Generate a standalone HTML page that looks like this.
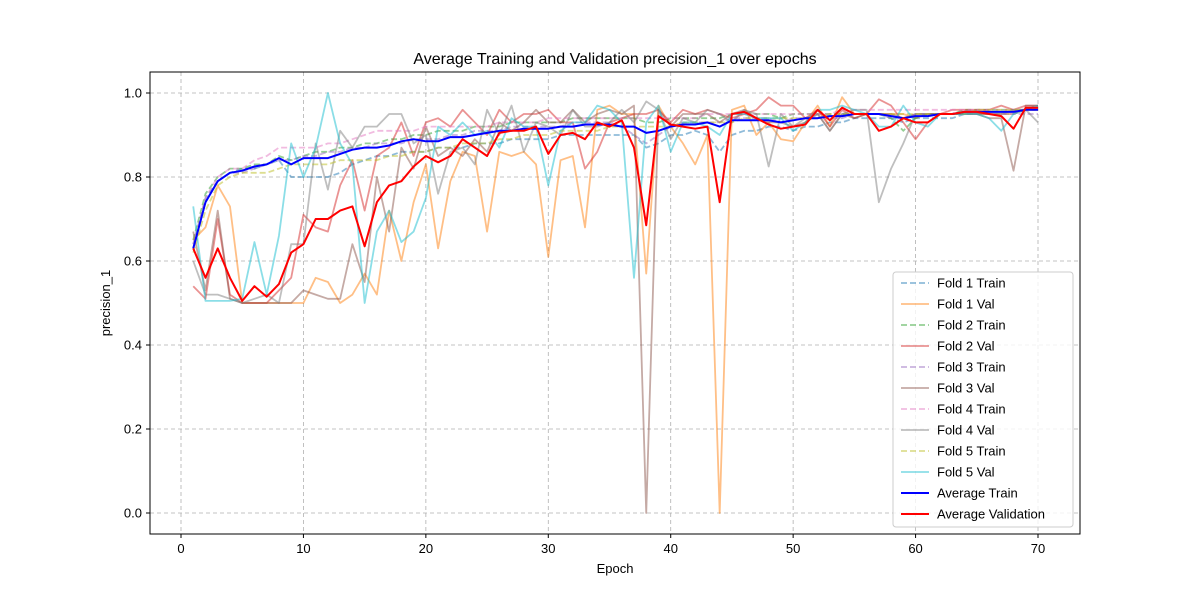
<!DOCTYPE html>
<html><head><meta charset="utf-8"><style>
body{margin:0;background:#fff;font-family:"Liberation Sans",sans-serif}
</style></head><body>
<svg id="chart" width="1200" height="600" xmlns="http://www.w3.org/2000/svg">
<rect width="1200" height="600" fill="#fff"/>
<text x="615" y="64" font-size="16" text-anchor="middle">Average Training and Validation precision_1 over epochs</text>
<g id="grid"></g><g id="series"></g><g id="axes"></g><g id="legend"></g>
<text x="615" y="573" font-size="13" text-anchor="middle">Epoch</text>
<text x="110" y="303" font-size="13" text-anchor="middle" transform="rotate(-90 110 303)">precision_1</text>
</svg>
<script>
const xTicks=[0,10,20,30,40,50,60,70];
const yTicks=[0.0,0.2,0.4,0.6,0.8,1.0];
const avgTrain=[0.63,0.74,0.79,0.81,0.815,0.825,0.83,0.845,0.83,0.845,0.845,0.845,0.855,0.865,0.87,0.87,0.875,0.885,0.89,0.885,0.885,0.895,0.895,0.9,0.905,0.91,0.91,0.915,0.915,0.915,0.92,0.92,0.925,0.925,0.925,0.92,0.92,0.905,0.91,0.92,0.925,0.925,0.93,0.92,0.935,0.935,0.935,0.935,0.93,0.935,0.94,0.94,0.945,0.945,0.95,0.95,0.95,0.945,0.94,0.945,0.945,0.95,0.95,0.955,0.955,0.955,0.955,0.955,0.96,0.96];
const avgVal=[0.63,0.56,0.63,0.56,0.505,0.54,0.515,0.545,0.62,0.64,0.70,0.70,0.72,0.73,0.635,0.74,0.78,0.79,0.825,0.85,0.835,0.85,0.89,0.87,0.85,0.905,0.91,0.91,0.92,0.855,0.90,0.905,0.89,0.93,0.92,0.935,0.87,0.685,0.945,0.925,0.92,0.915,0.92,0.74,0.95,0.955,0.94,0.925,0.915,0.92,0.925,0.96,0.935,0.965,0.95,0.95,0.91,0.92,0.94,0.93,0.93,0.95,0.95,0.955,0.955,0.95,0.945,0.915,0.965,0.965];
const f1Train=[0.64,0.75,0.79,0.81,0.82,0.82,0.83,0.84,0.80,0.80,0.80,0.80,0.81,0.83,0.84,0.85,0.85,0.86,0.86,0.86,0.87,0.87,0.87,0.88,0.88,0.88,0.89,0.89,0.89,0.89,0.90,0.90,0.90,0.90,0.90,0.90,0.90,0.87,0.88,0.90,0.90,0.91,0.90,0.86,0.90,0.91,0.91,0.92,0.92,0.91,0.92,0.92,0.93,0.93,0.94,0.94,0.94,0.94,0.93,0.94,0.94,0.94,0.94,0.95,0.95,0.95,0.95,0.95,0.96,0.96];
const f2Train=[0.65,0.76,0.80,0.82,0.82,0.83,0.83,0.85,0.84,0.85,0.86,0.86,0.87,0.87,0.88,0.88,0.89,0.89,0.90,0.90,0.91,0.91,0.91,0.92,0.92,0.92,0.93,0.93,0.93,0.93,0.93,0.94,0.94,0.94,0.94,0.94,0.94,0.93,0.93,0.94,0.94,0.94,0.94,0.94,0.95,0.95,0.95,0.95,0.94,0.95,0.95,0.95,0.95,0.95,0.95,0.95,0.95,0.94,0.91,0.94,0.95,0.95,0.95,0.96,0.96,0.96,0.96,0.96,0.96,0.97];
const f3Train=[0.63,0.74,0.79,0.81,0.81,0.82,0.83,0.84,0.84,0.85,0.85,0.86,0.86,0.87,0.87,0.88,0.88,0.88,0.89,0.89,0.89,0.90,0.90,0.91,0.91,0.91,0.92,0.92,0.92,0.92,0.92,0.93,0.93,0.93,0.93,0.92,0.90,0.88,0.90,0.92,0.93,0.93,0.93,0.93,0.94,0.94,0.94,0.94,0.93,0.94,0.94,0.94,0.94,0.94,0.95,0.95,0.95,0.94,0.94,0.95,0.95,0.95,0.95,0.95,0.95,0.95,0.95,0.95,0.95,0.95];
const f4Train=[0.64,0.75,0.80,0.82,0.82,0.84,0.85,0.87,0.87,0.87,0.87,0.88,0.88,0.89,0.90,0.91,0.91,0.91,0.91,0.92,0.92,0.92,0.92,0.92,0.92,0.93,0.93,0.93,0.93,0.94,0.94,0.94,0.94,0.94,0.94,0.94,0.94,0.94,0.94,0.94,0.94,0.94,0.95,0.95,0.95,0.95,0.95,0.95,0.95,0.95,0.95,0.95,0.95,0.96,0.96,0.96,0.96,0.96,0.96,0.96,0.96,0.96,0.96,0.96,0.96,0.96,0.96,0.96,0.96,0.96];
const f5Train=[0.62,0.72,0.78,0.80,0.81,0.81,0.81,0.82,0.83,0.83,0.83,0.83,0.84,0.84,0.84,0.84,0.85,0.85,0.86,0.86,0.87,0.87,0.88,0.88,0.88,0.89,0.89,0.90,0.90,0.90,0.91,0.91,0.91,0.91,0.92,0.92,0.92,0.92,0.92,0.92,0.93,0.93,0.93,0.93,0.93,0.94,0.94,0.94,0.94,0.94,0.94,0.94,0.95,0.95,0.95,0.95,0.95,0.95,0.95,0.95,0.95,0.95,0.95,0.95,0.96,0.96,0.96,0.96,0.96,0.96];
const f1Val=[0.65,0.68,0.78,0.73,0.50,0.50,0.50,0.50,0.50,0.50,0.56,0.55,0.50,0.52,0.57,0.52,0.72,0.60,0.74,0.83,0.63,0.79,0.86,0.85,0.67,0.86,0.85,0.86,0.83,0.61,0.84,0.85,0.68,0.96,0.97,0.95,0.95,0.57,0.97,0.92,0.88,0.83,0.90,0.0,0.96,0.97,0.90,0.93,0.89,0.885,0.93,0.97,0.92,0.99,0.95,0.95,0.95,0.95,0.95,0.94,0.95,0.95,0.95,0.95,0.95,0.95,0.95,0.95,0.96,0.96];
const f2Val=[0.54,0.51,0.70,0.52,0.50,0.50,0.50,0.53,0.56,0.71,0.68,0.67,0.78,0.84,0.72,0.85,0.87,0.93,0.85,0.93,0.94,0.92,0.96,0.93,0.90,0.96,0.93,0.95,0.95,0.96,0.93,0.93,0.82,0.86,0.93,0.94,0.95,0.95,0.96,0.93,0.96,0.95,0.96,0.95,0.94,0.95,0.96,0.99,0.97,0.97,0.94,0.96,0.92,0.96,0.94,0.95,0.985,0.97,0.93,0.89,0.93,0.95,0.96,0.96,0.96,0.96,0.97,0.96,0.97,0.97];
const f3Val=[0.67,0.53,0.72,0.51,0.50,0.50,0.50,0.50,0.50,0.53,0.52,0.51,0.51,0.64,0.55,0.80,0.67,0.87,0.82,0.92,0.85,0.87,0.85,0.89,0.86,0.93,0.91,0.93,0.96,0.93,0.93,0.96,0.93,0.95,0.96,0.95,0.97,0.0,0.96,0.92,0.95,0.95,0.95,0.93,0.95,0.96,0.94,0.93,0.93,0.92,0.93,0.95,0.91,0.95,0.94,0.95,0.95,0.95,0.94,0.95,0.95,0.95,0.95,0.95,0.95,0.94,0.94,0.815,0.97,0.97];
const f4Val=[0.60,0.52,0.52,0.51,0.50,0.51,0.52,0.50,0.64,0.64,0.88,0.77,0.91,0.87,0.92,0.92,0.95,0.95,0.88,0.90,0.76,0.86,0.87,0.83,0.96,0.90,0.97,0.86,0.93,0.92,0.90,0.96,0.92,0.92,0.93,0.96,0.93,0.98,0.96,0.89,0.94,0.93,0.96,0.95,0.93,0.96,0.95,0.825,0.95,0.92,0.94,0.95,0.91,0.95,0.96,0.96,0.74,0.82,0.88,0.95,0.95,0.95,0.95,0.95,0.95,0.95,0.95,0.96,0.96,0.93];
const f5Val=[0.73,0.505,0.505,0.505,0.51,0.645,0.52,0.66,0.88,0.80,0.87,1.0,0.88,0.83,0.50,0.67,0.72,0.645,0.67,0.75,0.92,0.90,0.93,0.90,0.91,0.87,0.94,0.92,0.92,0.78,0.91,0.93,0.93,0.97,0.96,0.93,0.56,0.93,0.97,0.86,0.93,0.93,0.92,0.90,0.95,0.95,0.94,0.94,0.94,0.91,0.93,0.96,0.96,0.97,0.96,0.95,0.92,0.92,0.97,0.93,0.92,0.95,0.95,0.95,0.95,0.94,0.91,0.95,0.96,0.97];
const X=v=>181+v*(1038-181)/70;
const Y=v=>513-v*420;
const NS='http://www.w3.org/2000/svg';
function mk(t,a,p){const e=document.createElementNS(NS,t);for(const k in a)e.setAttribute(k,a[k]);p.appendChild(e);return e;}
const grid=document.getElementById('grid'),axes=document.getElementById('axes'),ser=document.getElementById('series'),leg=document.getElementById('legend');
xTicks.forEach(t=>{const l=mk('line',{x1:X(t),x2:X(t),y1:72,y2:534,stroke:'#b0b0b0','stroke-dasharray':'4,3','stroke-width':0.8},grid);


mk('line',{x1:X(t),x2:X(t),y1:534,y2:538,stroke:'#000'},axes);
const tx=mk('text',{x:X(t),y:553,'font-size':13,'text-anchor':'middle'},axes);tx.textContent=t;

});
yTicks.forEach(t=>{const l=mk('line',{x1:150,x2:1080,y1:Y(t),y2:Y(t),stroke:'#b0b0b0','stroke-dasharray':'4,3','stroke-width':0.8},grid);


mk('line',{x1:146,x2:150,y1:Y(t),y2:Y(t),stroke:'#000'},axes);
const tx=mk('text',{x:142,y:Y(t)+4.5,'font-size':13,'text-anchor':'end'},axes);tx.textContent=t.toFixed(1);

});
const frame=mk('rect',{x:150,y:72,width:930,height:462,fill:'none',stroke:'#000'},axes);


const series=[
['Fold 1 Train',f1Train,'#1f77b4',true,0.5],['Fold 1 Val',f1Val,'#ff7f0e',false,0.5],
['Fold 2 Train',f2Train,'#2ca02c',true,0.5],['Fold 2 Val',f2Val,'#d62728',false,0.5],
['Fold 3 Train',f3Train,'#9467bd',true,0.5],['Fold 3 Val',f3Val,'#8c564b',false,0.5],
['Fold 4 Train',f4Train,'#e377c2',true,0.5],['Fold 4 Val',f4Val,'#7f7f7f',false,0.5],
['Fold 5 Train',f5Train,'#bcbd22',true,0.5],['Fold 5 Val',f5Val,'#17becf',false,0.5],
['Average Train',avgTrain,'#0000ff',false,1],['Average Validation',avgVal,'#ff0000',false,1]];
const lb=mk('rect',{x:893,y:272,width:180,height:255,rx:3,fill:'#fff','fill-opacity':0.8,stroke:'#ccc'},leg);


series.forEach((s,i)=>{
const pts=s[1].map((v,j)=>X(j+1)+','+Y(v)).join(' ');
const a={points:pts,fill:'none',stroke:s[2],'stroke-width':s[4]===1?2:1.8,'stroke-opacity':s[4],'stroke-linejoin':'round'};
if(s[3])a['stroke-dasharray']='6,3';
const pl=mk('polyline',a,ser);


const y=283+i*21;
const la={x1:901,x2:929,y1:y,y2:y,stroke:s[2],'stroke-width':s[4]===1?2:1.8,'stroke-opacity':s[4]};
if(s[3])la['stroke-dasharray']='6,3';
mk('line',la,leg);
const t=mk('text',{x:937,y:y+4.5,'font-size':13},leg);t.textContent=s[0];


});
</script>
</body></html>
